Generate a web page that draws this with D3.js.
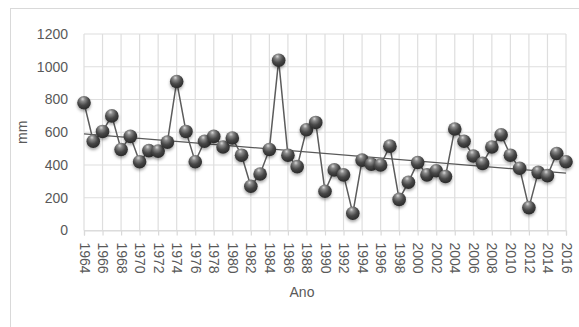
<!DOCTYPE html>
<html>
<head>
<meta charset="utf-8">
<script src="https://cdn.jsdelivr.net/npm/d3@7"></script>
<style>
  html, body { margin: 0; padding: 0; background: #fff; }
  svg text { font-family: "Liberation Sans", Arial, sans-serif; fill: #595959; }
</style>
</head>
<body>
<svg id="chart" width="579" height="327"></svg>
<script>
// Annual rainfall (mm), 1964–2016
const years = d3.range(1964, 2017);
const rainfall = [
  780, 545, 605, 700, 495, 575, 420, 488, 485, 540,
  910, 605, 420, 545, 575, 510, 565, 460, 270, 345,
  495, 1040, 460, 390, 615, 660, 240, 370, 340, 105,
  430, 405, 400, 515, 190, 295, 415, 340, 365, 330,
  620, 545, 455, 410, 510, 585, 460, 380, 140, 355,
  335, 470, 420
];
const yTicks = [0, 200, 400, 600, 800, 1000, 1200];
const xTicks = d3.range(1964, 2017, 2);
const yLabel = "mm";
const xLabel = "Ano";

const svg = d3.select("#chart");

// chart frame
svg.append("rect")
  .attr("x", 10.5).attr("y", 8.5)
  .attr("width", 700).attr("height", 500)
  .attr("fill", "none").attr("stroke", "#d9d9d9");

const x = d3.scaleLinear().domain([1964, 2016]).range([84, 566]);
const y = d3.scaleLinear().domain([0, 1200]).range([230.5, 34]);

const defs = svg.append("defs");
const grad = defs.append("radialGradient")
  .attr("id", "ball").attr("cx", "42%").attr("cy", "30%").attr("r", "65%")
  .attr("fx", "40%").attr("fy", "22%");
grad.append("stop").attr("offset", "0%").attr("stop-color", "#d8d8d8");
grad.append("stop").attr("offset", "25%").attr("stop-color", "#8a8a8a");
grad.append("stop").attr("offset", "65%").attr("stop-color", "#474747");
grad.append("stop").attr("offset", "100%").attr("stop-color", "#2e2e2e");

const shadow = defs.append("filter").attr("id", "shadow")
  .attr("x", "-50%").attr("y", "-50%").attr("width", "200%").attr("height", "200%");
shadow.append("feDropShadow")
  .attr("dx", 0).attr("dy", 2).attr("stdDeviation", 1.5)
  .attr("flood-color", "#000").attr("flood-opacity", 0.35);

// gridlines
const grid = svg.append("g");
grid.selectAll("line.h").data(yTicks).join("line")
  .attr("x1", x(1964)).attr("x2", x(2016))
  .attr("y1", d => y(d)).attr("y2", d => y(d))
  .attr("stroke", "#dedede").attr("stroke-width", 1.2);
grid.selectAll("line.v").data(xTicks).join("line")
  .attr("x1", d => x(d)).attr("x2", d => x(d))
  .attr("y1", y(1200)).attr("y2", y(0))
  .attr("stroke", "#dedede").attr("stroke-width", 1.2);

// y axis labels
const yAxis = svg.append("g").attr("transform", `translate(${x(1964)},0)`)
  .call(d3.axisLeft(y).tickValues(yTicks).tickFormat(d3.format("d")).tickSize(0).tickPadding(16));
yAxis.select(".domain").remove();
yAxis.selectAll("text").style("font-size", "14px").attr("fill", "#595959");

// x axis with rotated year labels
const xAxis = svg.append("g").attr("transform", `translate(0,${y(0)})`)
  .call(d3.axisBottom(x).tickValues(xTicks).tickFormat(d3.format("d")).tickSize(5));
xAxis.select(".domain").attr("stroke", "#d9d9d9").attr("stroke-width", 1.2);
xAxis.selectAll(".tick line").attr("stroke", "#d9d9d9").attr("stroke-width", 1.2);
xAxis.selectAll("text")
  .style("font-size", "14px").attr("fill", "#595959")
  .attr("transform", "rotate(90)")
  .attr("x", 12).attr("y", 0).attr("dy", "0.35em")
  .attr("text-anchor", "start");

// axis titles
svg.append("text").attr("x", 302).attr("y", 297)
  .attr("text-anchor", "middle").style("font-size", "14px").text(xLabel);
svg.append("text")
  .attr("transform", `translate(27,${(y(0) + y(1200)) / 2}) rotate(-90)`)
  .attr("text-anchor", "middle").style("font-size", "14px").text(yLabel);

// series line
const pts = years.map((yr, i) => [yr, rainfall[i]]);
svg.append("path")
  .attr("d", d3.line().x(d => x(d[0])).y(d => y(d[1]))(pts))
  .attr("fill", "none").attr("stroke", "#5c5c5c").attr("stroke-width", 1.5);

// linear trend
const mx = d3.mean(years), my = d3.mean(rainfall);
const slope = d3.sum(pts, d => (d[0] - mx) * (d[1] - my)) / d3.sum(years, v => (v - mx) ** 2);
const icpt = my - slope * mx;
svg.append("line")
  .attr("x1", x(1964)).attr("y1", y(icpt + slope * 1964))
  .attr("x2", x(2016)).attr("y2", y(icpt + slope * 2016))
  .attr("stroke", "#595959").attr("stroke-width", 1.2);

// spherical markers
svg.append("g").selectAll("circle").data(pts).join("circle")
  .attr("cx", d => x(d[0])).attr("cy", d => y(d[1]))
  .attr("r", 6.8)
  .attr("fill", "url(#ball)")
  .attr("filter", "url(#shadow)");
</script>
</body>
</html>
